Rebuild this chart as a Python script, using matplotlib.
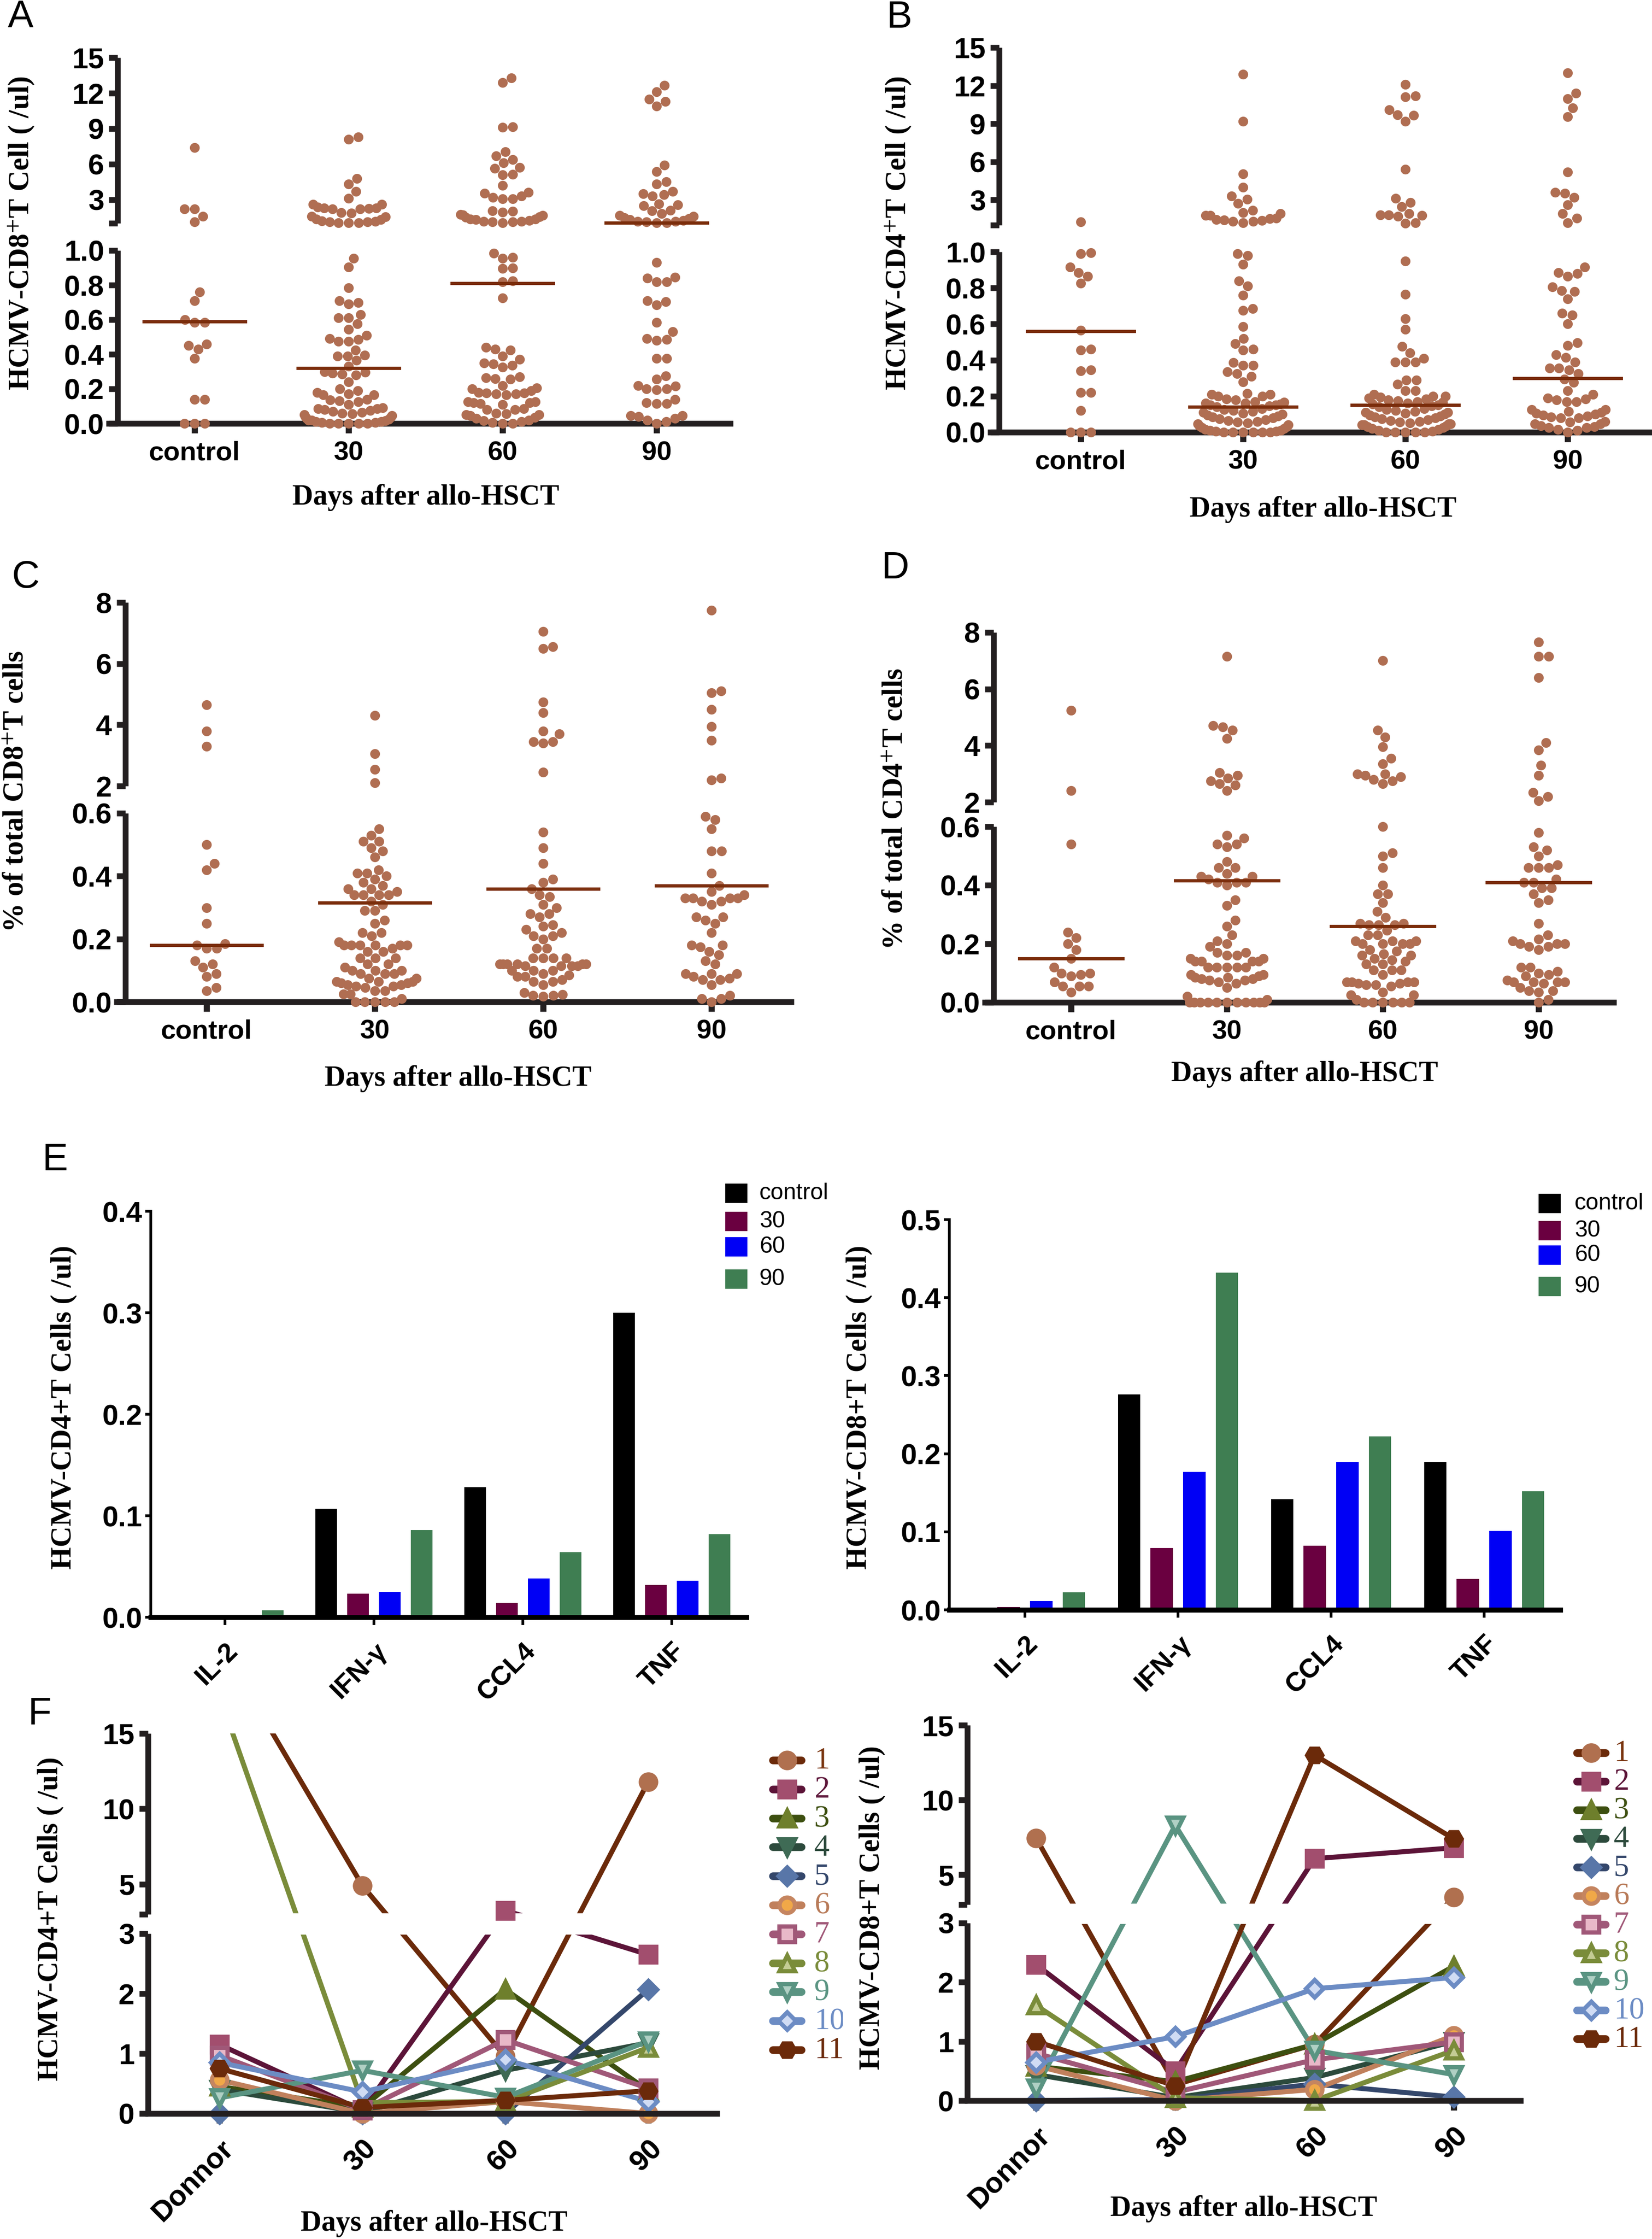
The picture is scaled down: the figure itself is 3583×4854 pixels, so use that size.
import numpy as np
import matplotlib
matplotlib.use("Agg")
import matplotlib.pyplot as plt
from matplotlib.patches import Rectangle

plt.rcParams['font.family'] = ['Liberation Sans', 'DejaVu Sans']
plt.rcParams['mathtext.fontset'] = 'stix'
SERIF = ['Liberation Serif', 'DejaVu Serif']

# ---------------- data ----------------
groups = ['control', '30', '60', '90']

# A: HCMV-CD8+ T cell counts (/ul)
A_ctrl = [7.4, 2.2, 2.2, 1.6, 1.1, 0.76, 0.71, 0.60, 0.585, 0.585, 0.46, 0.45, 0.43, 0.375,
          0.14, 0.14, 0, 0, 0]
A_d30 = [8.3, 8.1, 4.8, 4.3, 3.7, 3.1, 2.6, 2.6, 2.35, 2.3, 2.25, 2.2, 2.2, 2.3, 1.9, 1.85, 1.6,
         1.55, 1.35, 1.3, 1.2, 1.15, 1.1, 1.1, 1.05, 1.02, 1.02,
         0.955, 0.905, 0.785, 0.71, 0.70, 0.69, 0.63, 0.61, 0.61, 0.575, 0.545, 0.51, 0.49, 0.485,
         0.475, 0.475, 0.425, 0.395, 0.39, 0.39, 0.365, 0.33, 0.30, 0.295, 0.29, 0.285, 0.28, 0.24,
         0.20, 0.19, 0.18, 0.17, 0.165, 0.165, 0.14, 0.135, 0.13, 0.125, 0.11, 0.09, 0.085, 0.085,
         0.08, 0.075, 0.07, 0.065, 0.06, 0.055, 0.05, 0.045, 0.04, 0.035, 0.03, 0.025, 0.02, 0.02,
         0.015, 0.01, 0.01, 0.005, 0.005, 0, 0, 0, 0, 0]
A_d60 = [13.3, 12.9, 9.15, 9.1, 7.05, 6.7, 6.4, 6.1, 5.7, 5.65, 5.15, 5.1, 4.2, 3.6, 3.55, 3.3,
         3.2, 3.05, 3.05, 2.05, 2.0, 1.95, 1.75, 1.7, 1.55, 1.35, 1.3, 1.15, 1.1, 1.05, 1.1, 1.15,
         1.25, 1.35, 1.5, 1.65,
         0.985, 0.96, 0.955, 0.9, 0.895, 0.825, 0.82, 0.725, 0.44, 0.43, 0.425, 0.39, 0.37, 0.345,
         0.335, 0.325, 0.35, 0.27, 0.265, 0.26, 0.255, 0.22, 0.205, 0.2, 0.19, 0.18, 0.175, 0.17,
         0.165, 0.17, 0.175, 0.125, 0.125, 0.12, 0.12, 0.115, 0.11, 0.085, 0.08, 0.08, 0.06, 0.055,
         0.05, 0.05, 0.035, 0.02, 0.01, 0.005, 0.0, 0.0, 0.015, 0.03, 0.045]
A_d90 = [12.65, 12.1, 11.5, 11.3, 10.9, 5.9, 5.35, 4.5, 4.3, 3.7, 3.5, 3.4, 3.3, 2.65, 2.55, 2.5,
         2.1, 2.05, 1.8, 1.65, 1.45, 1.3, 1.15, 1.05, 1.05, 1.1, 1.15, 1.25, 1.4, 1.6,
         0.93, 0.845, 0.84, 0.82, 0.82, 0.71, 0.705, 0.685, 0.585, 0.53, 0.49, 0.485, 0.48, 0.375,
         0.375, 0.275, 0.255, 0.22, 0.215, 0.2, 0.2, 0.195, 0.14, 0.12, 0.115, 0.115, 0.045, 0.045,
         0.02, 0.0, 0.01, 0.03, 0.04]
A_med = [0.59, 0.32, 0.81, 1.05]

# B: HCMV-CD4+ T cell counts (/ul)
B_ctrl = [1.27, 0.995, 0.99, 0.915, 0.885, 0.865, 0.825, 0.565, 0.46, 0.455, 0.345, 0.34, 0.22,
          0.22, 0.12, 0, 0, 0]
B_d30 = [12.9, 9.2, 5.05, 4.0, 3.3, 3.05, 2.7, 2.15, 1.9, 1.75, 1.55, 1.45, 1.35, 1.3, 1.2, 1.3,
         1.4, 1.5, 1.75, 2.0,
         0.99, 0.98, 0.93, 0.84, 0.81, 0.76, 0.685, 0.675, 0.585, 0.52, 0.49, 0.46, 0.455, 0.385,
         0.37, 0.37, 0.335, 0.325, 0.31, 0.28, 0.215, 0.21, 0.21, 0.2, 0.2, 0.185, 0.18, 0.17,
         0.165, 0.16, 0.16, 0.155, 0.15, 0.15, 0.145, 0.14, 0.13, 0.125, 0.12, 0.115, 0.11, 0.105,
         0.1, 0.095, 0.09, 0.085, 0.08, 0.075, 0.07, 0.065, 0.06, 0.055, 0.05, 0.045, 0.04, 0.035,
         0.03, 0.025, 0.02, 0.015, 0.01, 0.01, 0.005, 0.005, 0, 0, 0, 0, 0, 0]
B_d60 = [12.1, 11.2, 11.1, 10.1, 9.7, 9.65, 9.2, 5.4, 3.1, 2.8, 2.45, 1.9, 1.75, 1.2, 1.15, 1.7,
         1.8, 1.8,
         0.95, 0.765, 0.63, 0.57, 0.475, 0.44, 0.39, 0.39, 0.39, 0.41, 0.29, 0.29, 0.265, 0.23,
         0.23, 0.21, 0.2, 0.2, 0.195, 0.19, 0.185, 0.18, 0.175, 0.17, 0.165, 0.16, 0.155, 0.15,
         0.145, 0.14, 0.13, 0.125, 0.12, 0.115, 0.11, 0.11, 0.105, 0.1, 0.095, 0.09, 0.085, 0.08,
         0.075, 0.07, 0.065, 0.06, 0.055, 0.05, 0.045, 0.045, 0.04, 0.04, 0.035, 0.03, 0.025,
         0.02, 0.015, 0.01, 0.005, 0, 0, 0, 0, 0]
B_d90 = [13.0, 11.4, 10.95, 10.25, 9.55, 5.2, 3.6, 3.5, 3.2, 2.6, 1.9, 1.55, 1.2,
         0.915, 0.88, 0.865, 0.885, 0.78, 0.74, 0.785, 0.805, 0.65, 0.66, 0.6, 0.495, 0.48, 0.43,
         0.415, 0.39, 0.355, 0.325, 0.345, 0.355, 0.275, 0.295, 0.23, 0.19, 0.18, 0.17, 0.17,
         0.185, 0.21, 0.125, 0.115, 0.105, 0.095, 0.085, 0.08, 0.08, 0.09, 0.1, 0.11, 0.125, 0.06,
         0.045, 0.03, 0.025, 0.015, 0.0, 0.01, 0.025, 0.035, 0.045, 0.055]
B_med = [0.56, 0.14, 0.15, 0.30]

# C: % of total CD8+ T cells
C_ctrl = [4.65, 3.8, 3.3, 0.5, 0.44, 0.42, 0.3, 0.25, 0.185, 0.18, 0.17, 0.17, 0.13, 0.12, 0.11,
          0.09, 0.08, 0.045, 0.035]
C_d30 = [4.3, 3.05, 2.55, 2.1,
         0.55, 0.53, 0.51, 0.51, 0.49, 0.48, 0.46, 0.42, 0.41, 0.41, 0.40, 0.39, 0.38, 0.37, 0.36,
         0.36, 0.35, 0.34, 0.34, 0.34, 0.34, 0.32, 0.31, 0.29, 0.29, 0.26, 0.25, 0.22, 0.22, 0.21,
         0.19, 0.18, 0.18, 0.18, 0.17, 0.16, 0.18, 0.18, 0.18, 0.16, 0.14, 0.14, 0.14, 0.12, 0.11,
         0.1, 0.09, 0.09, 0.09, 0.1, 0.1, 0.12, 0.075, 0.065, 0.06, 0.055, 0.05, 0.045, 0.05,
         0.055, 0.06, 0.065, 0.065, 0.075, 0.035, 0.025, 0.025, 0.035, 0.0, 0.0, 0.0, 0.0, 0.0,
         0.01]
C_d60 = [7.05, 6.55, 6.5, 4.75, 4.4, 3.8, 3.7, 3.45, 3.4, 3.45, 2.45,
         0.54, 0.49, 0.44, 0.39, 0.38, 0.36, 0.335, 0.34, 0.31, 0.30, 0.28, 0.27, 0.28, 0.245,
         0.24, 0.23, 0.22, 0.21, 0.21, 0.2, 0.17, 0.17, 0.14, 0.14, 0.14, 0.14, 0.12, 0.12, 0.12,
         0.115, 0.115, 0.115, 0.115, 0.12, 0.12, 0.12, 0.1, 0.1, 0.1, 0.09, 0.08, 0.065, 0.065,
         0.07, 0.08, 0.085, 0.055, 0.03, 0.02, 0.018, 0.02, 0.024]
C_d90 = [7.75, 5.1, 5.05, 4.5, 3.95, 3.5, 2.25, 2.2,
         0.59, 0.58, 0.55, 0.48, 0.48, 0.41, 0.37, 0.34, 0.33, 0.33, 0.32, 0.31, 0.32, 0.33, 0.33,
         0.35, 0.27, 0.27, 0.25, 0.26, 0.22, 0.18, 0.18, 0.175, 0.16, 0.15, 0.13, 0.12, 0.09, 0.09,
         0.075, 0.07, 0.055, 0.07, 0.08, 0.09, 0.01, 0.0, 0.01, 0.02]
C_med = [0.18, 0.315, 0.36, 0.37]

# D: % of total CD4+ T cells
D_ctrl = [5.25, 2.4, 0.54, 0.24, 0.22, 0.2, 0.18, 0.15, 0.12, 0.1, 0.095, 0.09, 0.1, 0.07, 0.055,
          0.055, 0.055, 0.035]
D_d30 = [7.15, 4.65, 4.7, 4.55, 4.25, 3.05, 2.95, 2.85, 2.75, 2.65, 2.6, 2.4,
         0.57, 0.56, 0.54, 0.54, 0.53, 0.48, 0.46, 0.46, 0.44, 0.43, 0.43, 0.42, 0.41, 0.41, 0.40,
         0.41, 0.35, 0.33, 0.28, 0.26, 0.23, 0.21, 0.19, 0.2, 0.17, 0.17, 0.16, 0.15, 0.16, 0.15,
         0.14, 0.14, 0.14, 0.14, 0.12, 0.12, 0.12, 0.12, 0.12, 0.095, 0.095, 0.085, 0.08, 0.075,
         0.07, 0.065, 0.05, 0.075, 0.08, 0.085, 0.09, 0.02, 0.01, 0, 0, 0, 0, 0, 0, 0, 0, 0, 0, 0]
D_d60 = [7.0, 4.55, 4.3, 3.95, 3.55, 3.35, 3.0, 2.9, 2.75, 2.65, 2.8, 2.95, 3.0,
         0.6, 0.51, 0.5, 0.46, 0.4, 0.37, 0.37, 0.34, 0.31, 0.29, 0.27, 0.265, 0.265, 0.265, 0.27,
         0.245, 0.23, 0.21, 0.21, 0.21, 0.23, 0.2, 0.2, 0.2, 0.2, 0.18, 0.16, 0.16, 0.165, 0.175,
         0.15, 0.14, 0.145, 0.13, 0.11, 0.11, 0.11, 0.13, 0.095, 0.07, 0.07, 0.065, 0.06, 0.055,
         0.06, 0.065, 0.07, 0.07, 0.035, 0.025, 0.025, 0.01, 0, 0, 0, 0, 0, 0]
D_d90 = [7.65, 7.15, 7.15, 6.4, 4.1, 3.85, 3.3, 2.95, 2.35, 2.2, 2.05,
         0.58, 0.53, 0.52, 0.5, 0.47, 0.46, 0.46, 0.46, 0.42, 0.41, 0.39, 0.39, 0.41, 0.37, 0.35,
         0.34, 0.27, 0.23, 0.215, 0.21, 0.2, 0.2, 0.2, 0.19, 0.19, 0.18, 0.12, 0.12, 0.105, 0.09,
         0.095, 0.1, 0.07, 0.07, 0.065, 0.075, 0.07, 0.07, 0.05, 0.04, 0.04, 0.035, 0.01, 0.0]
D_med = [0.15, 0.415, 0.26, 0.41]

# E: cytokine producing HCMV-specific T cells (/ul)
cytokines = ['IL-2', 'IFN-γ', 'CCL4', 'TNF']
E4_ctrl = [0.0, 0.107, 0.128, 0.300]
E4_d30 = [0.0, 0.023, 0.014, 0.032]
E4_d60 = [0.0, 0.025, 0.038, 0.036]
E4_d90 = [0.007, 0.086, 0.064, 0.082]
E8_ctrl = [0.0, 0.276, 0.142, 0.189]
E8_d30 = [0.0035, 0.079, 0.082, 0.0395]
E8_d60 = [0.011, 0.177, 0.189, 0.101]
E8_d90 = [0.0225, 0.432, 0.222, 0.152]

# F: follow-up of 11 patients (Donor, 30, 60, 90 days)
days_f = ['Donnor', '30', '60', '90']
patients = [str(i) for i in range(1, 12)]
F4_values = [
    [21.0, 4.9, 0.95, 11.8],
    [1.15, 0.05, 3.25, 2.65],
    [0.45, 0.1, 2.07, 0.38],
    [0.4, 0.02, 0.72, 1.18],
    [0.0, 0.0, 0.0, 2.07],
    [0.56, 0.0, 0.2, 0.0],
    [0.97, 0.06, 1.23, 0.42],
    [17.5, 0.18, 0.2, 1.1],
    [0.26, 0.72, 0.27, 1.21],
    [0.85, 0.36, 0.9, 0.2],
    [0.75, 0.1, 0.22, 0.38],
]
F8_values = [
    [7.45, 0.27, 0.95, 3.5],
    [2.3, 0.5, 6.07, 6.8],
    [0.58, 0.32, 0.95, 2.27],
    [0.44, 0.05, 0.39, 1.0],
    [0.0, 0.02, 0.28, 0.06],
    [0.59, 0.0, 0.19, 1.1],
    [0.8, 0.14, 0.69, 0.99],
    [1.61, 0.05, 0.0, 0.85],
    [0.21, 8.3, 0.85, 0.44],
    [0.65, 1.08, 1.89, 2.08],
    [1.0, 0.25, 13.0, 7.4],
]

# ---------------- styles ----------------
DOT = '#B06E52'
MED = '#7B2D0B'
INK = '#231F20'
BAR_COLORS = ['#000000', '#6A0040', '#0000F5', '#3F7E52']
F_LINE = ['#6B2A0A', '#5C1438', '#3D4F10', '#2C4A3C', '#34476B', '#C0805C',
          '#A05878', '#7A8C3A', '#5A9482', '#6C8CC4', '#6B2A0A']
F_TEXT = ['#7A3510', '#5C1438', '#3D4F10', '#2C4A3C', '#34476B', '#B87A58',
          '#A05878', '#7A8C3A', '#5A9482', '#6C8CC4', '#6B2A0A']
F_MARK = ['o', 's', '^', 'v', 'D', 'o', 's', '^', 'v', 'D', 'H']
F_FACE = ['#B0704F', '#A24E6E', '#6E7F2C', '#3F6B55', '#5876A8', '#F0A848',
          '#E8B8C8', '#C4CC94', '#B0D0C4', '#D0DCF4', '#6B2A0A']
F_EDGE = ['#B0704F', '#A24E6E', '#6E7F2C', '#3F6B55', '#5876A8', '#C58560',
          '#A05878', '#7A8C3A', '#5A9482', '#6C8CC4', '#6B2A0A']

W, H = 3583, 4854
fig = plt.figure(figsize=(W / 300, H / 300), dpi=300)


def box(l, r, t, b):
    return fig.add_axes([l / W, 1 - b / H, (r - l) / W, (b - t) / H])


def broken(ax, vals, rows):
    # piecewise linear y scale: [0,a] lower part, [b,top] upper part, gap between
    v = np.asarray(vals, float)
    p = -np.asarray(rows, float)

    def lin(x, xp, fp):
        x = np.asarray(x, float)
        out = np.interp(x, xp, fp)
        lo = fp[0] + (x - xp[0]) * (fp[1] - fp[0]) / (xp[1] - xp[0])
        hi = fp[-1] + (x - xp[-1]) * (fp[-1] - fp[-2]) / (xp[-1] - xp[-2])
        return np.where(x < xp[0], lo, np.where(x > xp[-1], hi, out))

    ax.set_yscale('function', functions=(lambda y: lin(y, v, p), lambda q: lin(q, p, v)))
    ax.set_ylim(v[0], v[3])


def swarm(ax, xc, ys, half, d=22.0):
    pts = ax.transData.transform(np.column_stack([np.full(len(ys), xc), ys]))
    x0, yy = pts[0, 0], pts[:, 1]
    xs = np.zeros(len(ys))
    placed = []
    for k in np.argsort(yy, kind='stable'):
        y = yy[k]
        near = [(px, py) for px, py in placed if abs(py - y) < d]
        cands = [0.0]
        for px, py in near:
            dx = np.sqrt(d * d - (py - y) ** 2)
            cands += [px + dx, px - dx]
        cands.sort(key=lambda c: (abs(c), -c))
        for c in cands:
            if all((c - px) ** 2 + (y - py) ** 2 >= d * d - 1e-6 for px, py in near):
                break
        placed.append((c, y))
        xs[k] = c
    # dense rows get squeezed together (dots overlap) instead of growing too wide
    xs = half * np.tanh(xs / half)
    back = ax.transData.inverted().transform(np.column_stack([x0 + xs, yy]))
    return back[:, 0]


def frame(ax, vals, xstart, lw=3.0):
    xl, xr = ax.get_xlim()
    kw = dict(color=INK, lw=lw, clip_on=False, zorder=5, solid_capstyle='butt')
    ax.plot([xl, xl], [vals[0], vals[1]], **kw)
    ax.plot([xl, xl], [vals[2], vals[3]], **kw)
    ax.plot([xstart, xr], [0, 0], **kw)
    for sp in ax.spines.values():
        sp.set_visible(False)


def dot_panel(l, r, cat0, step, rows, vals, data, med, yt, ylab):
    ax = box(l, r, rows[3], rows[0])
    ax.set_facecolor('none')
    ax.set_xlim((l - cat0) / step, (r - cat0) / step)
    broken(ax, vals, rows)
    frame(ax, vals, (l - 25 - cat0) / step)
    for i, ys in enumerate(data):
        xs = swarm(ax, i, ys, 0.3 * step)
        ax.scatter(xs, ys, s=26, color=DOT, lw=0, zorder=6, clip_on=False)
        ax.plot([i - 0.33, i + 0.33], [med[i], med[i]], color=MED, lw=1.7, zorder=7)
    ax.set_yticks(yt)
    ax.set_yticklabels(ylab, fontsize=15, fontweight='bold')
    ax.set_xticks(range(4))
    ax.set_xticklabels(groups, fontsize=14, fontweight='bold')
    ax.tick_params(axis='y', length=4.5, width=3, color=INK, pad=2.5)
    ax.tick_params(axis='x', length=5, width=3.2, color=INK, pad=4)
    ax.minorticks_off()
    return ax


# ---------------- A-D ----------------
ab_ticks = [0, 0.2, 0.4, 0.6, 0.8, 1.0, 1.0001, 3, 6, 9, 12, 15]
ab_labels = ['0.0', '0.2', '0.4', '0.6', '0.8', '1.0', '', '3', '6', '9', '12', '15']
cd_ticks = [0, 0.2, 0.4, 0.6, 2, 4, 6, 8]
cd_labels = ['0.0', '0.2', '0.4', '0.6', '2', '4', '6', '8']

dot_panel(255, 1590, 422, 334, [918, 543, 484, 125], [0, 1.0, 1.0001, 15],
          [A_ctrl, A_d30, A_d60, A_d90], A_med, ab_ticks, ab_labels)
dot_panel(2167, 3583, 2344, 352, [937, 546, 488, 103], [0, 1.0, 1.0001, 15],
          [B_ctrl, B_d30, B_d60, B_d90], B_med, ab_ticks, ab_labels)
dot_panel(272, 1722, 448, 365, [2172, 1763, 1704, 1306], [0, 0.6, 2, 8],
          [C_ctrl, C_d30, C_d60, C_d90], C_med, cd_ticks, cd_labels)
dot_panel(2155, 3506, 2323, 338, [2173, 1792, 1739, 1371], [0, 0.6, 2, 8],
          [D_ctrl, D_d30, D_d60, D_d90], D_med, cd_ticks, cd_labels)


# ---------------- E ----------------
def bar_panel(l, r, t, b, cat0, step, top, series):
    ax = box(l, r, t, b)
    ax.set_facecolor('none')
    ax.set_xlim((l - cat0) / step, (r - cat0) / step)
    ax.set_ylim(0, top)
    x = np.arange(len(cytokines))
    for vals, col, off in zip(series, BAR_COLORS, [-0.32, -0.107, 0.107, 0.32]):
        ax.bar(x + off, vals, width=0.145, color=col, lw=0, zorder=2)
    for s in ['top', 'right']:
        ax.spines[s].set_visible(False)
    ax.spines['left'].set_linewidth(1.4)
    ax.spines['bottom'].set_linewidth(2.6)
    ax.spines['bottom'].set_zorder(3)
    yt = np.arange(0, top + 0.001, 0.1)
    ax.set_yticks(yt)
    ax.set_yticklabels(['%.1f' % v for v in yt], fontsize=15, fontweight='bold')
    ax.set_xticks(x)
    ax.set_xticklabels(cytokines, fontsize=14, fontweight='bold', rotation=45,
                       ha='right', rotation_mode='anchor')
    ax.tick_params(axis='y', length=3, width=1.4, pad=1.5)
    ax.tick_params(axis='x', length=4, width=1.4, pad=7)
    return ax


bar_panel(327, 1619, 2626, 3506, 488, 323, 0.4, [E4_ctrl, E4_d30, E4_d60, E4_d90])
bar_panel(2059, 3384, 2644, 3490, 2223, 332, 0.5, [E8_ctrl, E8_d30, E8_d60, E8_d90])


# ---------------- F ----------------
def line_panel(l, r, cat0, step, rows, data):
    vals = [0, 3, 3.0001, 15]
    ax = box(l, r, rows[3], rows[0])
    ax.set_facecolor('none')
    ax.set_xlim((l - cat0) / step, (r - cat0) / step)
    broken(ax, vals, rows)
    frame(ax, vals, (l - 6 - cat0) / step)
    x = np.arange(len(days_f))
    for k, yv in enumerate(data):
        yv = np.asarray(yv, float)
        ax.plot(x, yv, color=F_LINE[k], lw=2.6, zorder=2, solid_joinstyle='round')
        m = yv <= 15
        ax.plot(x[m], yv[m], ls='none', marker=F_MARK[k],
                ms=6.5 if F_MARK[k] == 'D' else 8, mfc=F_FACE[k], mec=F_EDGE[k],
                mew=2.2, zorder=4, clip_on=False)
    ax.axhspan(3, 3.0001, color='white', zorder=3)
    ax.set_yticks([0, 1, 2, 3, 3.0001, 5, 10, 15])
    ax.set_yticklabels(['0', '1', '2', '3', '', '5', '10', '15'], fontsize=15, fontweight='bold')
    ax.set_xticks(x)
    ax.set_xticklabels(days_f, fontsize=15, fontweight='bold', rotation=45,
                       ha='right', rotation_mode='anchor')
    ax.tick_params(axis='y', length=4.5, width=3, color=INK, pad=2.5)
    ax.tick_params(axis='x', length=5, width=3.2, color=INK, pad=6)
    ax.minorticks_off()
    return ax


line_panel(321, 1561, 476, 310, [4582, 4192, 4150, 3758], F4_values)
line_panel(2098, 3304, 2247, 302, [4554, 4169, 4129, 3740], F8_values)

# ---------------- overlay: labels, legends ----------------
ov = fig.add_axes([0, 0, 1, 1], zorder=20)
ov.set_xlim(0, W)
ov.set_ylim(H, 0)
ov.axis('off')

for s, x, y in [('A', 45, 37), ('B', 1950, 38), ('C', 56, 1252), ('D', 1941, 1232),
                ('E', 119, 2515), ('F', 86, 3715)]:
    ov.text(x, y, s, fontsize=20, ha='center', va='center')

ylabs = [('HCMV-CD8$^{+}$T Cell ( /ul)', 46, 506),
         ('HCMV-CD4$^{+}$T Cell ( /ul)', 1948, 506),
         ('% of total CD8$^{+}$T cells', 36, 1716),
         ('% of total CD4$^{+}$T cells', 1942, 1754),
         ('HCMV-CD4+T Cells ( /ul)', 138, 3051),
         ('HCMV-CD8+T Cells ( /ul)', 1863, 3051),
         ('HCMV-CD4+T Cells ( /ul)', 109, 4160),
         ('HCMV-CD8+T Cells ( /ul)', 1891, 4136)]
for s, x, y in ylabs:
    ov.text(x, y, s, rotation=90, ha='center', va='center', fontsize=15,
            fontweight='bold', family=SERIF)

for x, y in [(924, 1078), (2869, 1104), (993, 2339), (2829, 2328), (941, 4820), (2698, 4788)]:
    ov.text(x, y, 'Days after allo-HSCT', ha='center', va='center', fontsize=15,
            fontweight='bold', family=SERIF)

# E legends
for xs, xt, rows_e in [(1573, 1647, [2587, 2648, 2703, 2773]),
                       (3337, 3415, [2609, 2668, 2721, 2789])]:
    for y, lab, col in zip(rows_e, groups, BAR_COLORS):
        ov.add_patch(Rectangle((xs, y - 21), 48, 42, color=col, lw=0))
        ov.text(xt, y, lab, fontsize=12, ha='left', va='center')

# F legends
clip_left = Rectangle((0, 0), 1828, H, transform=ov.transData)
for xl, xt, rows_f, clip in [(1676, 1766, np.linspace(3816, 4444, 11), clip_left),
                             (3420, 3500, np.linspace(3800, 4420, 11), None)]:
    for k, y in enumerate(rows_f):
        ov.plot([xl, xl + 62], [y, y], color=F_LINE[k], lw=4, solid_capstyle='round')
        ov.plot([xl + 31], [y], marker=F_MARK[k], ms=6.5 if F_MARK[k] == 'D' else 8,
                mfc=F_FACE[k], mec=F_EDGE[k], mew=2.2)
        t = ov.text(xt, y + 2, patients[k], color=F_TEXT[k], fontsize=16, family=SERIF,
                    ha='left', va='center')
        if clip is not None:
            t.set_clip_on(True)
            t.set_clip_path(clip)

fig.savefig('out.png', dpi=300)
